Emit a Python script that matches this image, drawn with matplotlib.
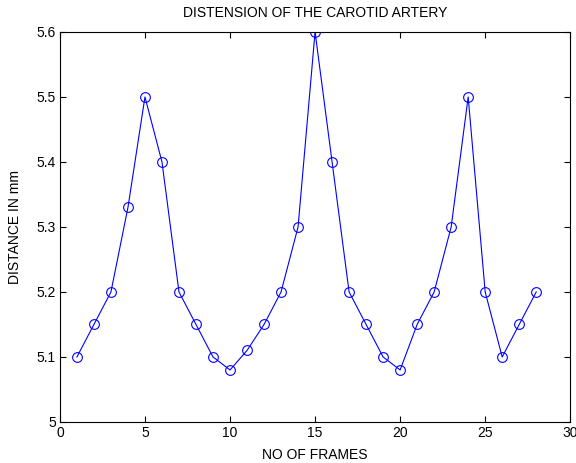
import matplotlib
matplotlib.use('Agg')
import matplotlib.pyplot as plt

frames = list(range(1, 29))
distance = [5.10, 5.15, 5.20, 5.33, 5.50, 5.40, 5.20, 5.15, 5.10, 5.08,
            5.11, 5.15, 5.20, 5.30, 5.60, 5.40, 5.20, 5.15, 5.10, 5.08,
            5.15, 5.20, 5.30, 5.50, 5.20, 5.10, 5.15, 5.20]

plt.rcParams['font.family'] = ['Liberation Sans', 'DejaVu Sans']
plt.rcParams['font.size'] = 10

fig = plt.figure(figsize=(5.76, 4.63), dpi=100)
ax = fig.add_axes([0.104, 0.0886, 0.886, 0.8424])
ax.plot(frames, distance, '-o', color='#0000ff', lw=0.8,
        markerfacecolor='none', markeredgecolor='#0000ff', markersize=7, markeredgewidth=0.8)
ax.set_xlim(0, 30)
ax.set_ylim(5, 5.6)
ax.set_xticks(range(0, 31, 5))
ax.set_yticks([5, 5.1, 5.2, 5.3, 5.4, 5.5, 5.6])
ax.set_yticklabels(['5', '5.1', '5.2', '5.3', '5.4', '5.5', '5.6'])
ax.tick_params(direction='in', top=True, right=True, length=4, width=0.8, pad=3)
for s in ax.spines.values():
    s.set_linewidth(0.8)
ax.set_title('DISTENSION OF THE CAROTID ARTERY', fontsize=10, pad=11)
ax.set_xlabel('NO OF FRAMES', labelpad=6)
ax.set_ylabel('DISTANCE IN mm', labelpad=10)
fig.savefig('out.png', dpi=100)
